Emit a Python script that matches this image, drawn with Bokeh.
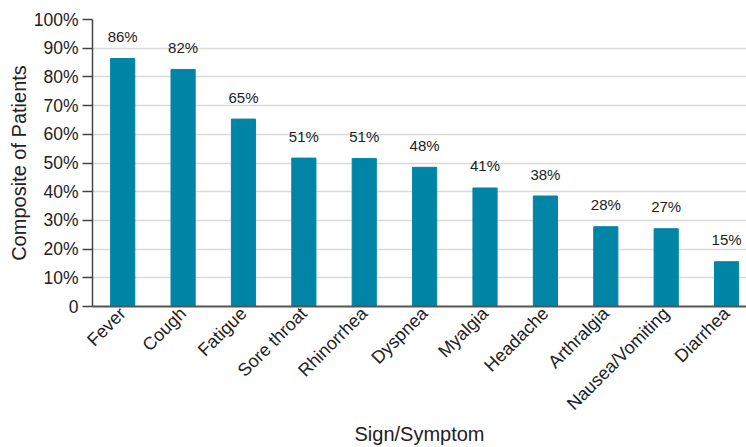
import math
from bokeh.plotting import figure
from bokeh.models import ColumnDataSource, FixedTicker, Range1d
from bokeh.core.properties import value
from bokeh.embed import file_html
from bokeh.resources import INLINE

categories = ["Fever", "Cough", "Fatigue", "Sore throat", "Rhinorrhea", "Dyspnea",
              "Myalgia", "Headache", "Arthralgia", "Nausea/Vomiting", "Diarrhea"]
values = [86.4, 82.6, 65.3, 51.7, 51.6, 48.5, 41.3, 38.5, 27.8, 27.1, 15.6]
value_labels = ["86%", "82%", "65%", "51%", "51%", "48%", "41%", "38%", "28%", "27%", "15%"]
y_ticks = [0, 10, 20, 30, 40, 50, 60, 70, 80, 90, 100]
y_tick_labels = ["0", "10%", "20%", "30%", "40%", "50%", "60%", "70%", "80%", "90%", "100%"]
x_title = "Sign/Symptom"
y_title = "Composite of Patients"

FONT = "Liberation Sans"
BAR = "#0085a6"
TXT = "#222222"

xs = list(range(len(categories)))
src = ColumnDataSource(dict(x=xs, top=values, lab=value_labels))

p = figure(width=746, height=447, output_backend="svg", toolbar_location=None,
           x_range=Range1d(-0.5, 10.33), y_range=Range1d(0, 100),
           min_border_left=92, min_border_right=0, min_border_top=19,
           min_border_bottom=140)
p.outline_line_color = None
p.background_fill_color = "white"
p.border_fill_color = "white"

p.vbar(x="x", top="top", width=0.4, bottom=0, source=src, color=BAR)
p.text(x="x", y="top", text="lab", source=src, text_align="center",
       text_baseline="middle", y_offset=-22, text_font=value(FONT),
       text_font_size="15px", text_color=TXT)

# axes
p.xaxis.ticker = FixedTicker(ticks=xs)
p.xaxis.major_label_overrides = {i: c for i, c in enumerate(categories)}
p.xaxis.major_label_orientation = math.pi / 4
p.xaxis.major_tick_line_color = None
p.xaxis.minor_tick_line_color = None
p.xaxis.major_tick_out = 0
p.xaxis.axis_line_color = "#555555"
p.xaxis.axis_line_width = 2
p.xaxis.major_label_text_font = FONT
p.xaxis.major_label_text_font_size = "18px"
p.xaxis.major_label_text_color = TXT
p.xaxis.major_label_standoff = 4
p.xaxis.axis_label = x_title
p.xaxis.axis_label_text_font = FONT
p.xaxis.axis_label_text_font_size = "20px"
p.xaxis.axis_label_text_font_style = "normal"
p.xaxis.axis_label_text_color = TXT
p.xaxis.axis_label_standoff = -1

p.yaxis.ticker = FixedTicker(ticks=y_ticks)
p.yaxis.major_label_overrides = {t: l for t, l in zip(y_ticks, y_tick_labels)}
p.yaxis.minor_tick_line_color = None
p.yaxis.major_tick_out = 10
p.yaxis.major_tick_in = 0
p.yaxis.major_tick_line_color = "#444444"
p.yaxis.major_tick_line_width = 1.5
p.yaxis.axis_line_color = "#444444"
p.yaxis.axis_line_width = 1.5
p.yaxis.major_label_text_font = FONT
p.yaxis.major_label_text_font_size = "17.5px"
p.yaxis.major_label_text_color = TXT
p.yaxis.major_label_standoff = 4
p.yaxis.axis_label = y_title
p.yaxis.axis_label_text_font = FONT
p.yaxis.axis_label_text_font_size = "20px"
p.yaxis.axis_label_text_font_style = "normal"
p.yaxis.axis_label_text_color = TXT
p.yaxis.axis_label_standoff = 1

p.xgrid.grid_line_color = None
p.ygrid.ticker = FixedTicker(ticks=y_ticks)
p.ygrid.grid_line_color = "#d9d9d9"
p.ygrid.grid_line_width = 1.5

open("out.html", "w").write(file_html(p, INLINE))
